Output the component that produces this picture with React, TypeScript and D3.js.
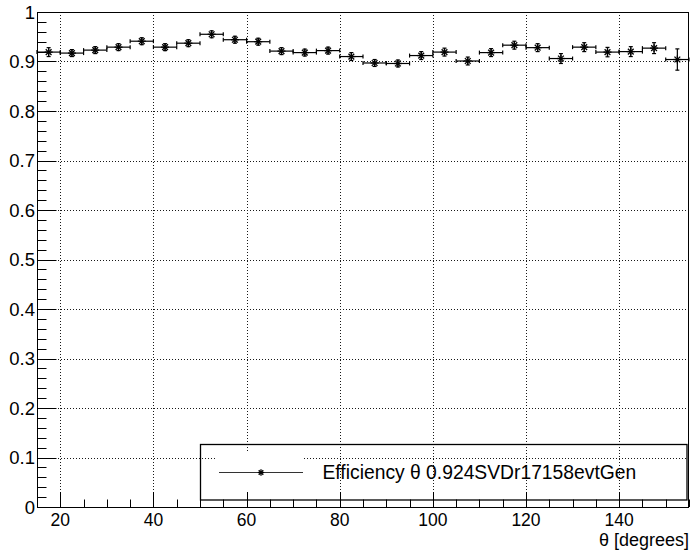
import React from "react";
import * as d3 from "d3";

const thetaCenters = [17.5, 22.5, 27.5, 32.5, 37.5, 42.5, 47.5, 52.5, 57.5, 62.5, 67.5, 72.5, 77.5, 82.5, 87.5, 92.5, 97.5, 102.5, 107.5, 112.5, 117.5, 122.5, 127.5, 132.5, 137.5, 142.5, 147.5, 152.5];
const binHalfWidth = 2.5;
const efficiency = [0.919, 0.917, 0.923, 0.929, 0.941, 0.929, 0.937, 0.955, 0.944, 0.940, 0.921, 0.918, 0.922, 0.910, 0.897, 0.896, 0.912, 0.919, 0.901, 0.918, 0.933, 0.928, 0.906, 0.929, 0.919, 0.920, 0.927, 0.904];
const effError = [0.009, 0.007, 0.007, 0.007, 0.007, 0.007, 0.007, 0.007, 0.007, 0.007, 0.007, 0.007, 0.007, 0.008, 0.007, 0.007, 0.008, 0.008, 0.008, 0.008, 0.008, 0.008, 0.010, 0.009, 0.0095, 0.010, 0.011, 0.0215];
const xMajorTicks = [20, 40, 60, 80, 100, 120, 140];
const yMajorTicks = [0, 0.1, 0.2, 0.3, 0.4, 0.5, 0.6, 0.7, 0.8, 0.9, 1];
const yTickLabels = ["0", "0.1", "0.2", "0.3", "0.4", "0.5", "0.6", "0.7", "0.8", "0.9", "1"];
const legendLabel = "Efficiency θ 0.924SVDr17158evtGen";
const xTitle = "θ [degrees]";

const W = 691, H = 550;
const L = 37, R = 689, T = 12, B = 507;
const FONT = "'Liberation Sans', Arial, sans-serif";

function Star({ cx, cy, r }: { cx: number; cy: number; r: number }) {
  const d = r * 0.72;
  return (
    <g stroke="#000" strokeWidth={1.3}>
      <line x1={cx - r} y1={cy} x2={cx + r} y2={cy} />
      <line x1={cx} y1={cy - r} x2={cx} y2={cy + r} />
      <line x1={cx - d} y1={cy - d} x2={cx + d} y2={cy + d} />
      <line x1={cx - d} y1={cy + d} x2={cx + d} y2={cy - d} />
    </g>
  );
}

export default function App() {
  const x = d3.scaleLinear().domain([15, 155]).range([L, R]);
  const y = d3.scaleLinear().domain([0, 1]).range([B, T]);
  const xMinor = d3.range(15, 155.01, 5).filter((v) => !xMajorTicks.includes(v));
  const yMinor = d3.range(0, 1.0001, 0.02).filter((v) => Math.abs(Math.round(v * 10) - v * 10) > 1e-6);

  const legX0 = 200.5, legX1 = 687, legY0 = 444.5, legY1 = 500;
  const legLineY = 472.5;

  return (
    <svg width={W} height={H} style={{ position: "absolute", left: 0, top: 0, background: "#fff" }} fontFamily={FONT}>
      <rect x={0} y={0} width={W} height={H} fill="#fff" />
      {/* grid */}
      <g stroke="#000" strokeWidth={1} strokeDasharray="1,2" opacity={0.9}>
        {xMajorTicks.map((v) => (
          <line key={"gx" + v} x1={Math.round(x(v)) + 0.5} x2={Math.round(x(v)) + 0.5} y1={T} y2={B} />
        ))}
        {yMajorTicks.filter((v) => v > 0 && v < 1).map((v) => (
          <line key={"gy" + v} x1={L} x2={R} y1={Math.round(y(v)) + 0.5} y2={Math.round(y(v)) + 0.5} />
        ))}
      </g>
      {/* frame */}
      <rect x={L + 0.5} y={T + 0.5} width={R - L - 1} height={B - T} fill="none" stroke="#000" strokeWidth={1} />
      {/* ticks */}
      <g stroke="#000" strokeWidth={1}>
        {yMajorTicks.map((v) => (
          <line key={"ty" + v} x1={L} x2={L + 19.5} y1={Math.round(y(v)) + 0.5} y2={Math.round(y(v)) + 0.5} />
        ))}
        {yMinor.map((v) => (
          <line key={"tym" + v} x1={L} x2={L + 9.5} y1={Math.round(y(v)) + 0.5} y2={Math.round(y(v)) + 0.5} />
        ))}
        {xMajorTicks.map((v) => (
          <line key={"tx" + v} x1={Math.round(x(v)) + 0.5} x2={Math.round(x(v)) + 0.5} y1={B} y2={B - 15} />
        ))}
        {xMinor.map((v) => (
          <line key={"txm" + v} x1={Math.round(x(v)) + 0.5} x2={Math.round(x(v)) + 0.5} y1={B} y2={B - 7.5} />
        ))}
        <line x1={L} x2={R} y1={B + 0.5} y2={B + 0.5} />
      </g>
      {/* y labels */}
      <g fontSize={18.5} textAnchor="end" fill="#000">
        {yMajorTicks.map((v, i) => (
          <text key={"ly" + v} x={L - 2} y={y(v) + 6.6}>{yTickLabels[i]}</text>
        ))}
      </g>
      {/* x labels */}
      <g fontSize={17.5} textAnchor="middle" fill="#000">
        {xMajorTicks.map((v) => (
          <text key={"lx" + v} x={x(v)} y={526}>{v}</text>
        ))}
      </g>
      <text x={689} y={546.3} fontSize={18} textAnchor="end" fill="#000">{xTitle}</text>
      {/* data */}
      <g stroke="#000" strokeWidth={1.2}>
        {thetaCenters.map((c, i) => {
          const px = x(c), py = y(efficiency[i]);
          const xl = x(c - binHalfWidth), xr = x(c + binHalfWidth);
          const yt = y(efficiency[i] + effError[i]), yb = y(efficiency[i] - effError[i]);
          return (
            <g key={"p" + i}>
              <line x1={xl} x2={xr} y1={py} y2={py} />
              <line x1={xl} x2={xl} y1={py - 2} y2={py + 2} />
              <line x1={xr} x2={xr} y1={py - 2} y2={py + 2} />
              <line x1={px} x2={px} y1={yt} y2={yb} />
              <line x1={px - 2} x2={px + 2} y1={yt} y2={yt} />
              <line x1={px - 2} x2={px + 2} y1={yb} y2={yb} />
              <Star cx={px} cy={py} r={4} />
            </g>
          );
        })}
      </g>
      {/* legend */}
      <rect x={216} y={451} width={88} height={40} fill="#fff" />
      <rect x={legX0} y={legY0} width={legX1 - legX0} height={legY1 - legY0} fill="none" stroke="#000" strokeWidth={1.3} />
      <line x1={219} x2={303} y1={legLineY} y2={legLineY} stroke="#333" strokeWidth={1.2} />
      <Star cx={261} cy={legLineY} r={3.2} />
      <text x={322.5} y={478.5} fontSize={19.3} fill="#000">{legendLabel}</text>
    </svg>
  );
}
